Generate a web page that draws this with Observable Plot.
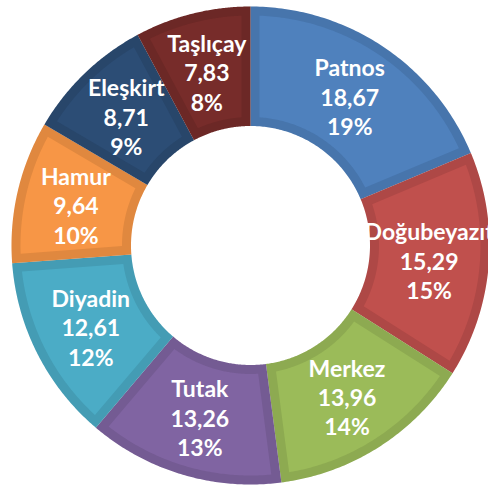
<!DOCTYPE html>
<html><head><meta charset="utf-8">
<script src="https://cdn.jsdelivr.net/npm/d3@7"></script>
<script src="https://cdn.jsdelivr.net/npm/@observablehq/plot@0.6"></script>
<style>html,body{margin:0;padding:0;overflow:hidden;background:#fff}</style>
</head><body><div id="chart"></div>
<script>
const names = ["Patnos","Doğubeyazıt","Merkez","Tutak","Diyadin","Hamur","Eleşkirt","Taşlıçay"];
const values = [18.67,15.29,13.96,13.26,12.61,9.64,8.71,7.83];
const percentLabels = ["19%","15%","14%","13%","12%","10%","9%","8%"];
const sliceColors = ["#4F81BD","#C0504D","#9BBB59","#8064A2","#4BACC6","#F79646","#2C4D75","#772C2A"];

const W = 488, H = 486, CX = 250, CY = 245, R = 239;
const innerR = 0.5, bevel = 9 / R;

const arcs = d3.pie().sort(null).value(d => d)(values);

function slicePoly(name, a0, a1, r0, r1, d) {
  const ro = r1 - d, ri = r0 + d;
  const so = Math.asin(d / ro), si = Math.asin(d / ri);
  const pts = [];
  const n = 90;
  for (let i = 0; i <= n; i++) {
    const a = (a0 + so) + (a1 - so - (a0 + so)) * i / n;
    pts.push({name, x: ro * Math.sin(a), y: ro * Math.cos(a)});
  }
  for (let i = 0; i <= n; i++) {
    const a = (a1 - si) - (a1 - si - (a0 + si)) * i / n;
    pts.push({name, x: ri * Math.sin(a), y: ri * Math.cos(a)});
  }
  return pts;
}

const outerPts = arcs.flatMap((a, i) => slicePoly(names[i], a.startAngle, a.endAngle, innerR, 1, 0));
const innerPts = arcs.flatMap((a, i) => slicePoly(names[i], a.startAngle, a.endAngle, innerR, 1, bevel));
const labels = arcs.map((a, i) => {
  const m = (a.startAngle + a.endAngle) / 2, rr = (innerR + 1) / 2;
  return {
    name: names[i],
    x: rr * Math.sin(m), y: rr * Math.cos(m),
    text: `${names[i]}\n${values[i].toFixed(2).replace(".", ",")}\n${percentLabels[i]}`
  };
});

const chart = Plot.plot({
  width: W, height: H,
  margin: 0,
  x: {domain: [-CX / R, (W - CX) / R], axis: null},
  y: {domain: [-(H - CY) / R, CY / R], axis: null},
  color: {domain: names, range: sliceColors},
  style: {background: "white"},
  marks: [
    Plot.line(outerPts, {x: "x", y: "y", z: "name", fill: "name", stroke: null, curve: "linear-closed"}),
    Plot.line(outerPts, {x: "x", y: "y", z: "name", fill: "black", fillOpacity: 0.09, stroke: null, curve: "linear-closed"}),
    Plot.line(innerPts, {x: "x", y: "y", z: "name", fill: "name", stroke: null, curve: "linear-closed"}),
    Plot.text(labels, {x: "x", y: "y", text: "text", fill: "white", fontSize: 23, fontWeight: "bold",
      fontFamily: "Lato, 'Open Sans', sans-serif", lineHeight: 1.28, textAnchor: "middle"})
  ]
});
document.getElementById("chart").appendChild(chart);
</script>
</body></html>
